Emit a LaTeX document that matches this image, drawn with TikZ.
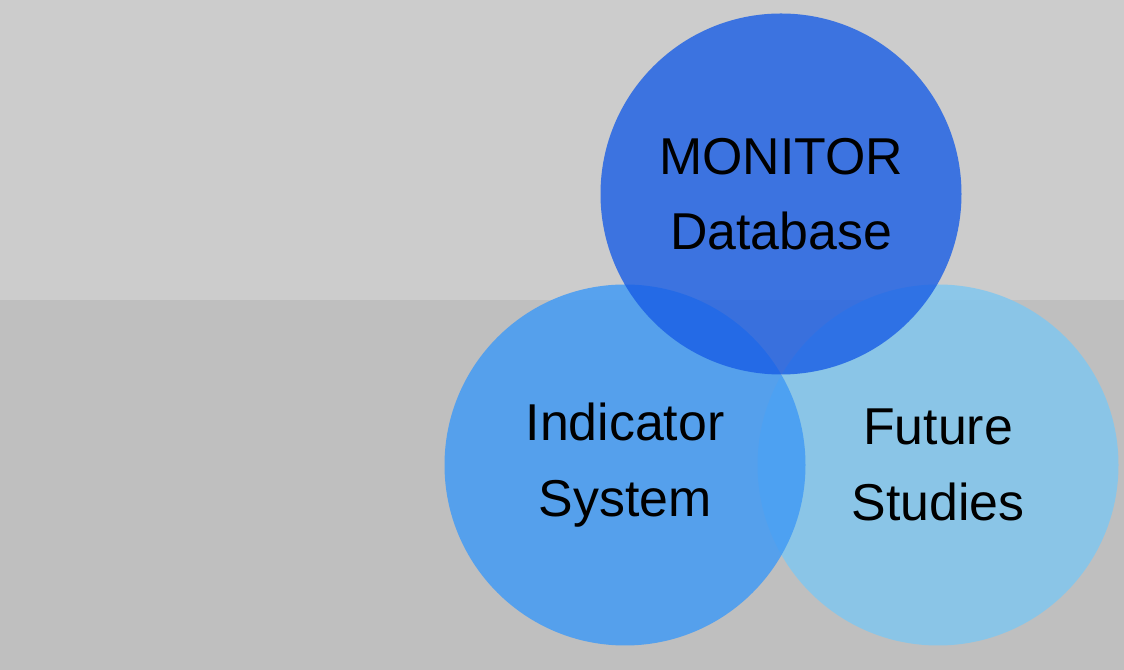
\documentclass[tikz,border=0pt]{standalone}
\usepackage{fontspec}
\setmainfont{Liberation Sans}
\usepackage{tikz}
\usetikzlibrary{positioning}
\definecolor{bgtop}{HTML}{CCCCCC}
\definecolor{bgbottom}{HTML}{BFBFBF}
\definecolor{monitorblue}{RGB}{24,93,229}
\definecolor{indicatorblue}{RGB}{67,155,244}
\definecolor{futureblue}{RGB}{129,199,239}
\tikzset{
  bubble/.style={circle, minimum size=7.22cm, inner sep=0pt, text centered, align=center,
    font=\fontsize{29.5}{43}\selectfont, text=black, text opacity=1},
  monitor/.style={bubble, fill=monitorblue, fill opacity=0.8},
  indicator/.style={bubble, fill=indicatorblue, fill opacity=0.85},
  future/.style={bubble, fill=futureblue, fill opacity=0.85}
}
\begin{document}
\begin{tikzpicture}
% background bands
\fill[bgbottom] (0,0) rectangle (22.48,7.4);
\fill[bgtop] (0,7.4) rectangle (22.48,13.4);
\useasboundingbox (0,0) rectangle (22.48,13.4);

\node (future) [future] at (18.76,4.1) {Future\\Studies};
\node (indicator) [indicator] at (12.5,4.1) {Indicator\\System};
\node (monitor) [monitor] at (15.62,9.52) {MONITOR\\Database};

\end{tikzpicture}
\end{document}
